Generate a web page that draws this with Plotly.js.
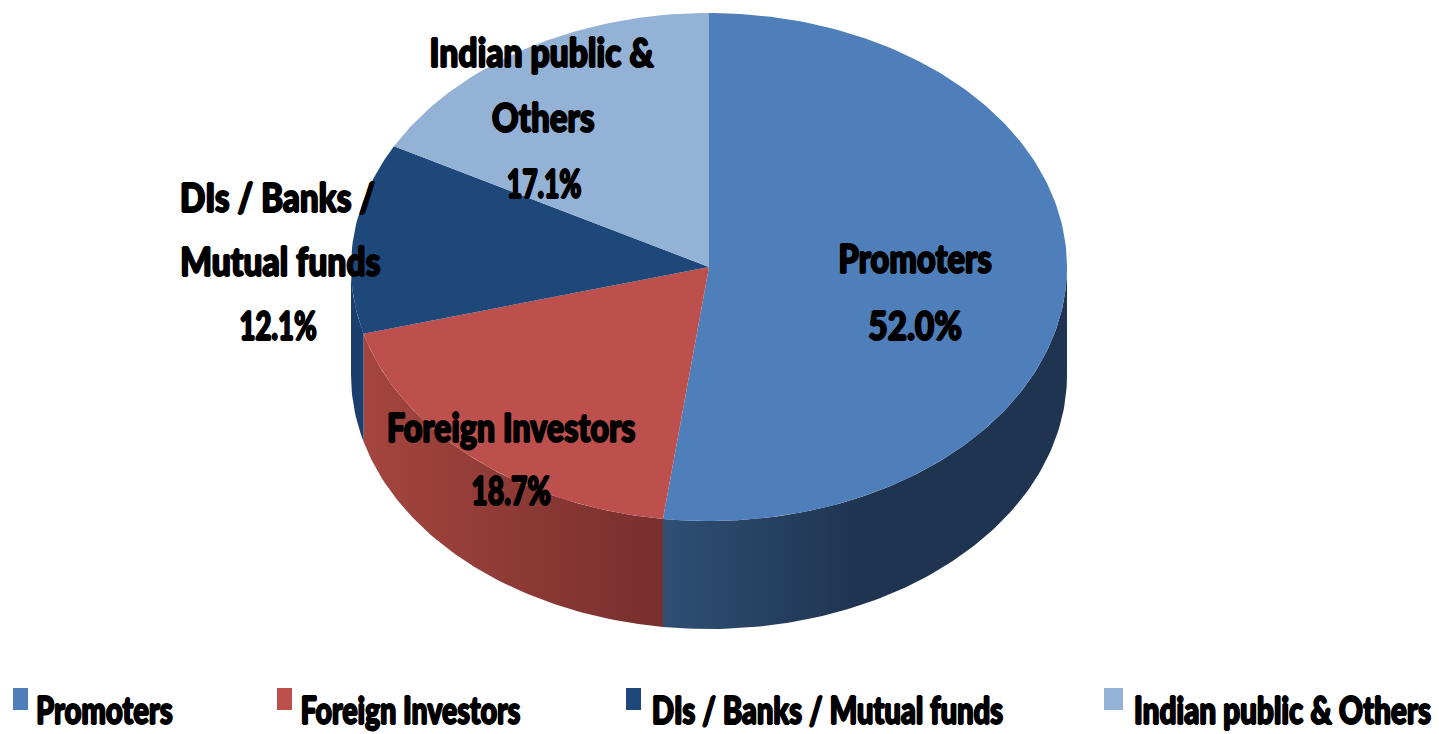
<!DOCTYPE html>
<html><head><meta charset="utf-8">
<script src="https://cdn.plot.ly/plotly-3.0.1.min.js"></script>
<style>html,body{margin:0;padding:0;background:#fff}#c{width:1439px;height:734px}
.annotation text{transform-box:fill-box;transform-origin:center}
</style>
</head><body><div id="c"></div>
<script>
const categories = ["Promoters","Foreign Investors","DIs / Banks / Mutual funds","Indian public & Others"];
const shares = [52.0,18.7,12.1,17.1];
const topColors = ["#4f7fba","#bd4f4c","#1e477a","#94b1d6"];
const sideGradients = [["#2f4f74","#1f3450"],["#a5453f","#772f2d"],["#1b3f6c","#1b3f6c"],["#7a94b5","#7a94b5"]];
const labelLines = [["Promoters"],["Foreign Investors"],["DIs / Banks /","Mutual funds"],["Indian public &","Others"]];
const textSqueeze = [.816,.835,.806,.71,.83,.84,.69,.84,.825,.665,.765,.75,.766,.78];

const cx=709, cy=267, rx=358, ry=254, depth=108;
const FONT='Lato,sans-serif';
const SHADOW='1px 0 0 #000,-1px 0 0 #000,0 1px 0 #000,0 -1px 0 #000';
const pt=(deg,dy=0)=>[cx+rx*Math.sin(deg*Math.PI/180),cy-ry*Math.cos(deg*Math.PI/180)+dy];
const total=shares.reduce((a,b)=>a+b,0);
const traces=[];
let bounds=[],acc=0;
shares.forEach(v=>{bounds.push([acc/total*360,(acc+v)/total*360]);acc+=v;});

function arc(a,b,dy){const out=[];const n=Math.max(2,Math.ceil(Math.abs(b-a)));for(let i=0;i<=n;i++)out.push(pt(a+(b-a)*i/n,dy));return out;}

bounds.forEach((b,i)=>{
  const a1=Math.max(b[0],90),a2=Math.min(b[1],270);
  if(a2<=a1)return;
  const p=arc(a1,a2,0).concat(arc(a2,a1,depth));
  p.push(p[0]);
  const xs=p.map(q=>q[0]);
  const lo=Math.min(...xs),hi=Math.max(...xs);
  const right=i===0;
  traces.push({type:'scatter',mode:'lines',x:xs,y:p.map(q=>q[1]),fill:'toself',line:{width:0},hoverinfo:'skip',showlegend:false,
    fillgradient:{type:'horizontal',start:lo,stop:right?Math.min(hi,lo+200):hi,
      colorscale:[[0,sideGradients[i][0]],[1,sideGradients[i][1]]]}});
});
bounds.forEach((b,i)=>{
  const p=[[cx,cy]].concat(arc(b[0],b[1],0));p.push([cx,cy]);
  traces.push({type:'scatter',mode:'lines',name:categories[i],x:p.map(q=>q[0]),y:p.map(q=>q[1]),fill:'toself',
    fillcolor:topColors[i],line:{width:0,color:topColors[i]},hoverinfo:'name',showlegend:false});
});

const ann=(text,x,y,size)=>({text,x,y,xref:'x',yref:'y',showarrow:false,xanchor:'center',yanchor:'middle',
  font:{family:FONT,size,color:'#000',weight:900,shadow:SHADOW}});
const pct=shares.map(v=>v.toFixed(1)+'%');
const annotations=[
  ann(labelLines[0][0],915,258,40),ann(pct[0],915,325,40),
  ann(labelLines[1][0],511,427,40),ann(pct[1],511,490,40),
  ann(labelLines[2][0],277,197,40),ann(labelLines[2][1],280,261,40),ann(pct[2],278,325,40),
  ann(labelLines[3][0],542,52,40),ann(labelLines[3][1],543,117,40),ann(pct[3],544,183,40),
  ann(categories[0],104.5,709,38),ann(categories[1],410.5,709,38),
  ann(categories[2],827,709,38),ann(categories[3],1282,709,38)
];
const swatchX=[[13,28],[277,292],[626,641],[1104,1123]];
const shapes=swatchX.map((s,i)=>({type:'rect',xref:'x',yref:'y',x0:s[0],x1:s[1],y0:688,y1:710,fillcolor:topColors[i],line:{width:0}}));

const css=textSqueeze.map((k,i)=>`.annotation[data-index="${i}"] text{transform:scaleX(${k})}`).join('\n');
const st=document.createElement('style');st.textContent=css;document.head.appendChild(st);

Plotly.newPlot('c',traces,{
  width:1439,height:734,margin:{l:0,r:0,t:0,b:0},paper_bgcolor:'#fff',plot_bgcolor:'#fff',showlegend:false,
  xaxis:{range:[0,1439],visible:false,fixedrange:true},
  yaxis:{range:[734,0],visible:false,fixedrange:true},
  annotations,shapes
},{displayModeBar:false,staticPlot:true});
</script></body></html>
